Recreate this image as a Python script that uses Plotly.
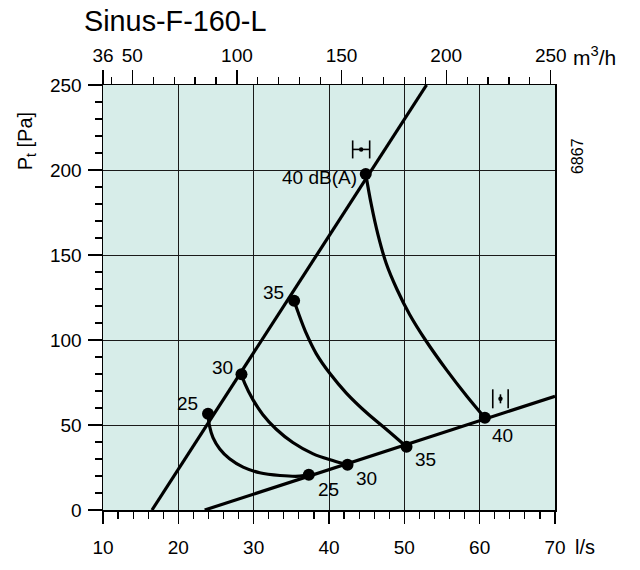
import plotly.graph_objects as go

# ---------------- data ----------------
# bottom axis (l/s) and left axis (Pa)
x_range = [10, 70]
y_range = [0, 250]
x_ticks = [10, 20, 30, 40, 50, 60, 70]
y_ticks = [0, 50, 100, 150, 200, 250]
# top axis (m3/h)
top_range = [36, 252]
top_ticks = [36, 50, 100, 150, 200, 250]
top_labels = ["36", "50", "100", "150", "200", "250"]

# system lines
sys_hi_x = [16.5, 52.95]
sys_hi_y = [0, 250]
sys_lo_x = [23.5, 70.0]
sys_lo_y = [0, 66.9]

# iso sound level curves dB(A)
levels = ["25", "30", "35", "40"]
c25_x = [23.94, 24.14, 24.6, 25.5, 26.8, 28.6, 30.8, 33.5, 36.1, 37.32]
c25_y = [56.6, 49.4, 42.6, 35.9, 30.1, 25.2, 21.9, 20.3, 19.9, 20.8]
c30_x = [28.38, 28.8, 29.9, 31.2, 33.0, 35.2, 37.9, 40.5, 42.46]
c30_y = [79.8, 74.6, 64.9, 56.2, 47.5, 39.7, 33.0, 29.1, 26.6]
c35_x = [35.37, 35.9, 37.0, 38.3, 40.1, 42.3, 45.0, 47.6, 50.29]
c35_y = [123.1, 116.3, 103.7, 92.0, 80.4, 68.8, 57.2, 47.5, 37.2]
c40_x = [44.88, 45.6, 46.5, 47.6, 49.0, 50.7, 52.8, 55.6, 58.3, 60.69]
c40_y = [197.7, 180.0, 162.0, 145.0, 130.0, 115.0, 100.0, 82.4, 66.9, 54.2]

# dots at curve ends
dots_x = [23.94, 28.38, 35.37, 44.88, 37.32, 42.46, 50.29, 60.69]
dots_y = [56.6, 79.8, 123.1, 197.7, 20.8, 26.6, 37.2, 54.2]

# labels
upper_lbl_text = ["25", "30", "35", "40 dB(A)"]
upper_lbl_x = [21.2, 25.85, 32.66, 44.0]
upper_lbl_y = [62.5, 83.9, 128.1, 195.6]
lower_lbl_text = ["25", "30", "35", "40"]
lower_lbl_x = [39.87, 44.97, 52.78, 63.08]
lower_lbl_y = [12.2, 18.5, 29.5, 43.6]

# damper-position symbols (centre in data units)
sym_h_xy = (44.27, 212.1)   # |-•-|
sym_v_xy = (62.76, 65.4)    # |ı|

title_text = "Sinus-F-160-L"
code_text = "6867"

FONT = "Liberation Sans, Arial, sans-serif"
BG = "#d7ede9"
LW = 3.2

fig = go.Figure()

def add_line(xs, ys, spline=False):
    fig.add_trace(go.Scatter(
        x=xs, y=ys, mode="lines",
        line=dict(color="black", width=LW, shape="spline" if spline else "linear",
                  smoothing=1.0 if spline else None),
        hoverinfo="skip", showlegend=False))

add_line(sys_hi_x, sys_hi_y)
add_line(sys_lo_x, sys_lo_y)
for cx, cy in [(c25_x, c25_y), (c30_x, c30_y), (c35_x, c35_y), (c40_x, c40_y)]:
    add_line(cx, cy, spline=True)

fig.add_trace(go.Scatter(x=dots_x, y=dots_y, mode="markers",
                         marker=dict(color="black", size=12),
                         hoverinfo="skip", showlegend=False))

# invisible trace to activate the top axis
fig.add_trace(go.Scatter(x=top_range, y=[None, None], xaxis="x2", yaxis="y",
                         mode="lines", showlegend=False, hoverinfo="skip"))

annotations = []
for t, xx, yy in zip(upper_lbl_text, upper_lbl_x, upper_lbl_y):
    anchor = "right" if "dB" in t else "center"
    annotations.append(dict(x=xx, y=yy, xref="x", yref="y", text=t, showarrow=False,
                            xanchor=anchor, yanchor="middle",
                            font=dict(family=FONT, size=19, color="black")))
for t, xx, yy in zip(lower_lbl_text, lower_lbl_x, lower_lbl_y):
    annotations.append(dict(x=xx, y=yy, xref="x", yref="y", text=t, showarrow=False,
                            xanchor="center", yanchor="middle",
                            font=dict(family=FONT, size=19, color="black")))

# title, units, axis title, code
annotations += [
    dict(x=-0.047, y=1.15, xref="paper", yref="paper", text=title_text, showarrow=False,
         xanchor="left", yanchor="middle", font=dict(family=FONT, size=28.8, color="black")),
    dict(x=1.036, y=1.068, xref="paper", yref="paper", text="m<sup>3</sup>/h", showarrow=False,
         xanchor="left", yanchor="middle", font=dict(family=FONT, size=21, color="black")),
    dict(x=1.039, y=-0.088, xref="paper", yref="paper", text="l/s", showarrow=False,
         xanchor="left", yanchor="middle", font=dict(family=FONT, size=20, color="black")),
    dict(x=-0.170, y=0.868, xref="paper", yref="paper", text="P<sub>t</sub> [Pa]", showarrow=False,
         textangle=-90, xanchor="center", yanchor="middle",
         font=dict(family=FONT, size=20, color="black")),
    dict(x=1.051, y=0.833, xref="paper", yref="paper", text=code_text, showarrow=False,
         textangle=-90, xanchor="center", yanchor="middle",
         font=dict(family=FONT, size=16, color="black")),
]

# damper symbols drawn with pixel-sized shapes
shapes = []
def seg(xc, yc, x0, y0, x1, y1):
    shapes.append(dict(type="line", xref="x", yref="y", xsizemode="pixel", ysizemode="pixel",
                       xanchor=xc, yanchor=yc, x0=x0, y0=y0, x1=x1, y1=y1,
                       line=dict(color="black", width=1.6)))
def dot(xc, yc, r=2.2):
    shapes.append(dict(type="circle", xref="x", yref="y", xsizemode="pixel", ysizemode="pixel",
                       xanchor=xc, yanchor=yc, x0=-r, y0=-r, x1=r, y1=r,
                       fillcolor="black", line=dict(color="black", width=0)))

hx, hy = sym_h_xy
seg(hx, hy, -8.5, -9, -8.5, 9)
seg(hx, hy, 8.5, -9, 8.5, 9)
seg(hx, hy, -8.5, 0, 8.5, 0)
dot(hx, hy)
vx, vy = sym_v_xy
seg(vx, vy, -7.7, -9.5, -7.7, 9.5)
seg(vx, vy, 7.7, -9.5, 7.7, 9.5)
seg(vx, vy, 0, -4.5, 0, 4.5)
dot(vx, vy)

top_minor = [v for v in range(40, 251, 10) if v not in top_ticks]

fig.update_layout(
    width=640, height=570,
    margin=dict(l=103, r=85, t=85, b=56),
    paper_bgcolor="white", plot_bgcolor=BG,
    font=dict(family=FONT, size=19, color="black"),
    showlegend=False,
    annotations=annotations, shapes=shapes,
    xaxis=dict(range=x_range, tickmode="array", tickvals=x_ticks,
               ticks="outside", ticklen=12.5, tickwidth=1.2, tickcolor="black",
               minor=dict(dtick=2, tick0=10, ticks="outside", ticklen=7.5, tickwidth=1.2,
                          tickcolor="black", showgrid=False),
               showgrid=True, gridcolor="#1a1a1a", gridwidth=1,
               showline=True, linecolor="black", linewidth=1.5, zeroline=False,
               ticklabelstandoff=7, tickfont=dict(size=19)),
    xaxis2=dict(range=top_range, overlaying="x", side="top", anchor="y",
                tickmode="array", tickvals=top_ticks, ticktext=top_labels,
                ticks="outside", ticklen=14, tickwidth=1.2, tickcolor="black",
                minor=dict(tickvals=top_minor, ticks="outside", ticklen=7, tickwidth=1.2,
                           tickcolor="black", showgrid=False),
                showgrid=False, showline=True, linecolor="black", linewidth=1.5,
                zeroline=False, ticklabelstandoff=0, tickfont=dict(size=19)),
    yaxis=dict(range=y_range, tickmode="array", tickvals=y_ticks,
               ticks="outside", ticklen=14, tickwidth=1.2, tickcolor="black",
               minor=dict(dtick=10, tick0=0, ticks="outside", ticklen=7, tickwidth=1.2,
                          tickcolor="black", showgrid=False),
               showgrid=True, gridcolor="#1a1a1a", gridwidth=1,
               showline=True, linecolor="black", linewidth=1.5, mirror=True,
               zeroline=False, ticklabelstandoff=2, tickfont=dict(size=19)),
)

fig.write_html("out.html",
               config={"displayModeBar": False, "staticPlot": True},
               post_script="document.body.style.margin='0';document.body.style.overflow='hidden';")
